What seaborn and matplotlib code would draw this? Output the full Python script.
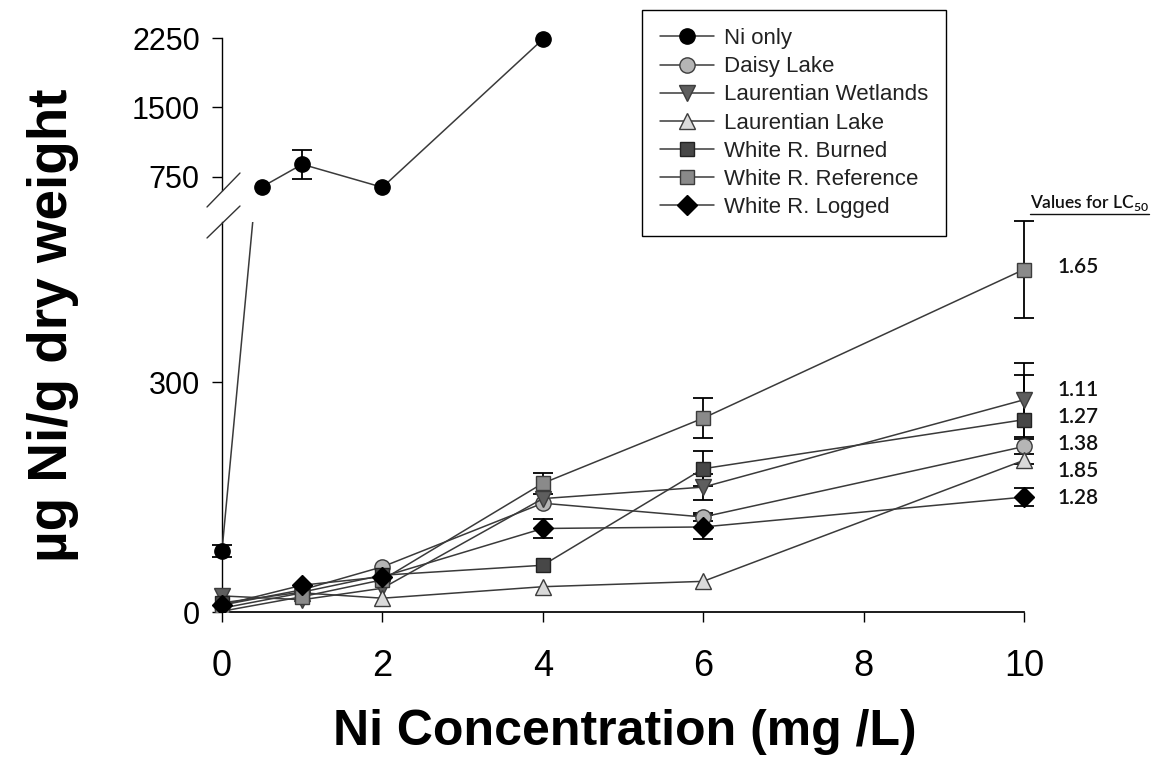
import matplotlib
matplotlib.use("Agg")
import matplotlib.pyplot as plt
from matplotlib.lines import Line2D
import seaborn as sns

# ---- data -------------------------------------------------------------
conc = [0, 1, 2, 4, 6, 10]

ni_only_conc = [0, 0.5, 1, 2, 4]
ni_only = [80, 640, 884, 635, 2236]
ni_only_err = [8, 0, 155, 0, 0]

daisy_lake = [9, 29, 59, 142, 124, 216]
daisy_lake_err = [0, 0, 0, 0, 5, 10]
laurentian_wetlands = [21, 16, 31, 148, 163, 277]
laurentian_wetlands_err = [0, 0, 0, 0, 17, 48]
laurentian_lake = [5, 25, 18, 33, 40, 198]
laurentian_lake_err = [0, 0, 0, 0, 0, 0]
white_burned = [12, 26, 48, 61, 187, 251]
white_burned_err = [0, 0, 0, 0, 23, 58]
white_reference = [1, 20, 42, 168, 253, 447]
white_reference_err = [0, 0, 0, 14, 26, 63]
white_logged = [9, 35, 46, 109, 111, 150]
white_logged_err = [0, 0, 0, 13, 16, 12]

series_names = ["Daisy Lake", "Laurentian Wetlands", "Laurentian Lake",
                "White R. Burned", "White R. Reference", "White R. Logged"]
series_values = [daisy_lake, laurentian_wetlands, laurentian_lake,
                 white_burned, white_reference, white_logged]
series_errors = [daisy_lake_err, laurentian_wetlands_err, laurentian_lake_err,
                 white_burned_err, white_reference_err, white_logged_err]
lc50 = ["1.38", "1.11", "1.85", "1.27", "1.65", "1.28"]

x_ticks = [0, 2, 4, 6, 8, 10]
lower_ticks = [0, 300]
upper_ticks = [750, 1500, 2250]

# ---- styling ----------------------------------------------------------
styles = {
    "Ni only":             dict(marker="o", fc="#000000", ec="#000000", ms=11),
    "Daisy Lake":          dict(marker="o", fc="#b5b5b5", ec="#3c3c3c", ms=11),
    "Laurentian Wetlands": dict(marker="v", fc="#5e5e5e", ec="#3c3c3c", ms=12),
    "Laurentian Lake":     dict(marker="^", fc="#dadada", ec="#3c3c3c", ms=12),
    "White R. Burned":     dict(marker="s", fc="#474747", ec="#222222", ms=10),
    "White R. Reference":  dict(marker="s", fc="#8a8a8a", ec="#3c3c3c", ms=10),
    "White R. Logged":     dict(marker="D", fc="#000000", ec="#000000", ms=10),
}
LINE = "#3a3a3a"
SANS = ["Liberation Sans", "DejaVu Sans"]
HUMAN = ["Lato", "Liberation Sans", "DejaVu Sans"]

sns.set_theme(style="ticks")
plt.rcParams["font.family"] = SANS
plt.rcParams["text.color"] = "black"
plt.rcParams["mathtext.fontset"] = "custom"
plt.rcParams["mathtext.rm"] = "Lato"

W, H = 1169, 777
fig = plt.figure(figsize=(W / 100, H / 100), dpi=100)

# pixel layout of the broken axis
x0_px, x10_px = 222, 1024
unit = (x10_px - x0_px) / 10
xlim = (-0.4, 10.4)
left_px = x0_px + xlim[0] * unit
right_px = x0_px + xlim[1] * unit
ax_lo = fig.add_axes([left_px / W, 1 - 612 / H, (right_px - left_px) / W, (612 - 222) / H])
ax_hi = fig.add_axes([left_px / W, 1 - 190 / H, (right_px - left_px) / W, (190 - 38) / H])
ax_lo.set_xlim(*xlim)
ax_hi.set_xlim(*xlim)
ax_lo.set_ylim(0, 509)
ax_hi.set_ylim(606, 2250)
for ax in (ax_lo, ax_hi):
    ax.patch.set_alpha(0)


def draw_errors(ax, xs, ys, errs):
    lo, hi = ax.get_ylim()
    pts = [(x, y, e) for x, y, e in zip(xs, ys, errs) if e > 0 and lo <= y <= hi]
    if not pts:
        return
    xe, ye, ee = zip(*pts)
    cont = ax.errorbar(xe, ye, yerr=ee, fmt="none", ecolor="black",
                       elinewidth=1.3, capsize=7.5, capthick=1.3, zorder=2)
    for art in cont.get_children():
        art.set_clip_on(False)


def draw_series(ax, xs, ys, name, with_markers=True):
    st = styles[name]
    sns.lineplot(x=xs, y=ys, ax=ax, color=LINE, linewidth=1.1,
                 marker=st["marker"] if with_markers else "",
                 markersize=st["ms"], markerfacecolor=st["fc"],
                 markeredgecolor=st["ec"], markeredgewidth=1.0,
                 errorbar=None, sort=False, legend=False, label=name, zorder=3)
    return ax.lines[-1]


handles = []
# Ni only: lower panel (clipped at the break) and upper panel
handles.append(draw_series(ax_lo, ni_only_conc, ni_only, "Ni only"))
draw_errors(ax_lo, ni_only_conc, ni_only, ni_only_err)
draw_series(ax_hi, ni_only_conc, ni_only, "Ni only", with_markers=False)
lo_hi, hi_hi = ax_hi.get_ylim()
up = [(x, y) for x, y in zip(ni_only_conc, ni_only) if lo_hi <= y <= hi_hi]
st = styles["Ni only"]
ax_hi.plot([p[0] for p in up], [p[1] for p in up], linestyle="none",
           marker=st["marker"], markersize=st["ms"], markerfacecolor=st["fc"],
           markeredgecolor=st["ec"], clip_on=False, zorder=3)
draw_errors(ax_hi, ni_only_conc, ni_only, ni_only_err)

for name, vals, errs in zip(series_names, series_values, series_errors):
    handles.append(draw_series(ax_lo, conc, vals, name))
    draw_errors(ax_lo, conc, vals, errs)

# ---- axes cosmetics ---------------------------------------------------
for ax in (ax_lo, ax_hi):
    ax.spines["left"].set_position(("data", 0))
    ax.spines["right"].set_visible(False)
    ax.spines["top"].set_visible(False)
    ax.spines["left"].set_color("black")
    ax.spines["left"].set_linewidth(1.0)
    ax.tick_params(axis="y", direction="out", length=7, width=1.0, pad=9,
                   colors="black")
ax_hi.spines["bottom"].set_visible(False)
ax_hi.tick_params(axis="x", bottom=False, labelbottom=False)
ax_lo.spines["bottom"].set_bounds(0, 10)
ax_lo.spines["bottom"].set_color("black")
ax_lo.tick_params(axis="x", direction="out", length=7, width=1.0, pad=20,
                  colors="black")

ax_lo.set_xticks(x_ticks, [str(t) for t in x_ticks], fontsize=26,
                 fontfamily=SANS, color="black")
ax_lo.set_yticks(lower_ticks, [str(t) for t in lower_ticks], fontsize=22,
                 fontfamily=SANS, color="black")
ax_hi.set_yticks(upper_ticks, [str(t) for t in upper_ticks], fontsize=22,
                 fontfamily=SANS, color="black")
ax_lo.set_xlabel("")
ax_lo.set_ylabel("")
ax_hi.set_ylabel("")

# break marks on the value axis
for (ya, yb) in [(207, 173), (238, 206)]:
    fig.add_artist(Line2D([207 / W, 240 / W], [1 - ya / H, 1 - yb / H],
                          color="#333333", linewidth=1.0))

fig.text(625 / W, 1 - 732 / H, "Ni Concentration (mg /L)", ha="center",
         va="center", fontsize=36, fontweight="bold", family=SANS,
         color="black")
fig.text(53 / W, 1 - 325 / H, "µg Ni/g dry weight", ha="center", va="center",
         rotation=90, fontsize=39.5, fontweight="bold", family=SANS,
         color="black")

# ---- legend -----------------------------------------------------------
leg = fig.legend(handles, ["Ni only"] + series_names, loc="upper left",
                 bbox_to_anchor=(642 / W, 1 - 10 / H), frameon=True,
                 fancybox=False, framealpha=1, edgecolor="black",
                 prop={"family": SANS, "size": 16}, handlelength=2.4,
                 handletextpad=0.45, borderpad=0.82, labelspacing=0.32,
                 borderaxespad=0)
leg.get_frame().set_linewidth(1.0)
for t in leg.get_texts():
    t.set_color("#222222")

# ---- LC50 labels beside the 10 mg/L points ----------------------------
finals = [v[-1] for v in series_values]
disp = [ax_lo.transData.transform((10, f))[1] for f in finals]
ref_idx = series_names.index("White R. Reference")
stack = sorted([i for i in range(len(finals)) if i != ref_idx],
               key=lambda i: -finals[i])
label_disp = {ref_idx: disp[ref_idx] + 3}
top = disp[stack[0]] + 10
for k, i in enumerate(stack):
    label_disp[i] = top - 27 * k
for i, txt in enumerate(lc50):
    ax_lo.annotate(txt, xy=(10, finals[i]), xytext=(33, label_disp[i] - disp[i]),
                   textcoords="offset pixels", ha="left", va="center",
                   fontsize=15, family=HUMAN, fontweight="semibold",
                   color="#111111", annotation_clip=False)

hdr = fig.text(1030 / W, 1 - 203 / H, r"Values for LC$_\mathregular{50}$",
               ha="left", va="center", fontsize=12.5, family=HUMAN,
               fontweight="semibold", color="#111111")
fig.canvas.draw()
bb = hdr.get_window_extent(fig.canvas.get_renderer())
(ux0, uy), (ux1, _) = fig.transFigure.inverted().transform([(bb.x0, bb.y0 - 1),
                                                            (bb.x1, bb.y0 - 1)])
fig.add_artist(Line2D([ux0, ux1], [uy, uy], color="#111111", linewidth=1.0))

fig.savefig("out.png", dpi=100)
